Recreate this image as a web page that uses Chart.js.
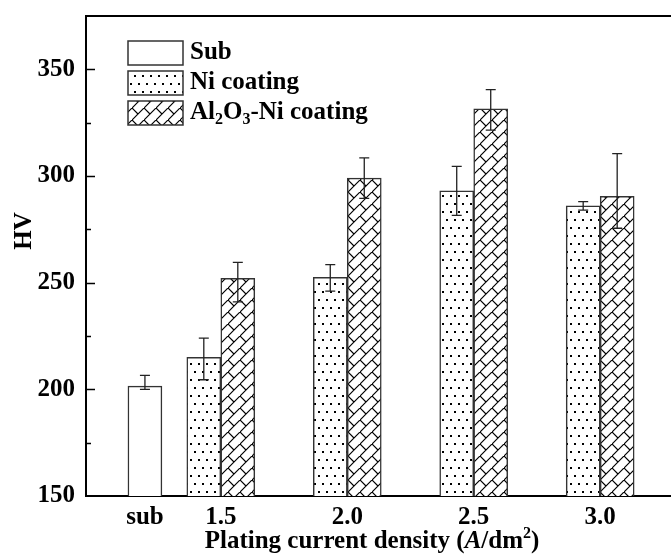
<!DOCTYPE html>
<html>
<head>
<meta charset="utf-8">
<script src="https://cdn.jsdelivr.net/npm/chart.js@4"></script>
<style>
  html, body { margin: 0; padding: 0; background: #fff; overflow: hidden; }
  #wrap { width: 671px; height: 557px; }
</style>
</head>
<body>
<div id="wrap"><canvas id="hvChart" width="671" height="557"></canvas></div>
<script>
// data
const categories = ['sub', '1.5', '2.0', '2.5', '3.0'];
const xPositions = [1.2, 1.5, 2.0, 2.5, 3.0];

const subValues = [201.5, null, null, null, null];
const subErrUp = [5, null, null, null, null];
const subErrDown = [1.5, null, null, null, null];

const niValues = [null, 215, 252.5, 293, 286];
const niErrUp = [null, 9, 6, 11.5, 2];
const niErrDown = [null, 10.5, 6.5, 11.5, 2];

const alValues = [null, 252, 299, 331.5, 290.5];
const alErrUp = [null, 7.5, 9.5, 9, 20];
const alErrDown = [null, 11, 9.5, 10, 15];

const yTicks = [150, 200, 250, 300, 350];
const yMinorTicks = [175, 225, 275, 325];

const FONT = '"Liberation Serif", "Times New Roman", serif';

function dotPattern() {
  const c = document.createElement('canvas');
  c.width = 8; c.height = 16;
  const g = c.getContext('2d');
  g.fillStyle = '#fff';
  g.fillRect(0, 0, 8, 16);
  g.fillStyle = '#000';
  g.fillRect(2, 3, 2, 2);
  g.fillRect(6, 11, 2, 2);
  return g.createPattern(c, 'repeat');
}

function hatchPattern() {
  const c = document.createElement('canvas');
  c.width = 12; c.height = 12;
  const g = c.getContext('2d');
  g.fillStyle = '#fff';
  g.fillRect(0, 0, 12, 12);
  g.strokeStyle = '#000';
  g.lineWidth = 1.2;
  g.beginPath();
  g.moveTo(-1, 13); g.lineTo(13, -1);
  g.moveTo(0, 0); g.lineTo(6, 6);
  g.stroke();
  return g.createPattern(c, 'repeat');
}

const subFill = '#fff';
const niFill = dotPattern();
const alFill = hatchPattern();

const toPoints = vals => xPositions.map((x, i) => ({ x: x, y: vals[i] }));

const errorBars = {
  id: 'errorBars',
  afterDatasetsDraw(chart) {
    const ctx = chart.ctx;
    const yScale = chart.scales.y;
    ctx.save();
    ctx.strokeStyle = '#222';
    ctx.lineWidth = 1.3;
    chart.data.datasets.forEach((ds, di) => {
      const meta = chart.getDatasetMeta(di);
      meta.data.forEach((bar, i) => {
        const v = ds.data[i].y;
        if (v == null) return;
        const top = yScale.getPixelForValue(v + ds.errUp[i]);
        const bot = yScale.getPixelForValue(v - ds.errDown[i]);
        ctx.beginPath();
        ctx.moveTo(bar.x, top); ctx.lineTo(bar.x, bot);
        ctx.moveTo(bar.x - 5, top); ctx.lineTo(bar.x + 5, top);
        ctx.moveTo(bar.x - 5, bot); ctx.lineTo(bar.x + 5, bot);
        ctx.stroke();
      });
    });
    ctx.restore();
  }
};

const frame = {
  id: 'frame',
  afterDraw(chart) {
    const ctx = chart.ctx;
    const a = chart.chartArea;
    const y = chart.scales.y;
    ctx.save();
    ctx.strokeStyle = '#000';
    ctx.lineWidth = 2;
    ctx.beginPath();
    ctx.moveTo(a.left - 1, a.top); ctx.lineTo(chart.width, a.top);
    ctx.stroke();
    ctx.lineWidth = 1.5;
    ctx.beginPath();
    yTicks.slice(1).forEach(v => {
      const p = Math.round(y.getPixelForValue(v)) + 0.5;
      ctx.moveTo(a.left, p); ctx.lineTo(a.left + 9, p);
    });
    yMinorTicks.forEach(v => {
      const p = Math.round(y.getPixelForValue(v)) + 0.5;
      ctx.moveTo(a.left, p); ctx.lineTo(a.left + 5, p);
    });
    ctx.stroke();

    // axis titles
    ctx.fillStyle = '#000';
    ctx.textBaseline = 'middle';
    ctx.font = 'bold 25px ' + FONT;
    ctx.save();
    ctx.translate(25, 231);
    ctx.rotate(-Math.PI / 2);
    ctx.textAlign = 'center';
    ctx.fillText('HV', 0, 0);
    ctx.restore();

    const parts = [
      { t: 'Plating current density (', f: 'bold 25px ' + FONT, dy: 0 },
      { t: 'A', f: 'italic bold 25px ' + FONT, dy: 0 },
      { t: '/dm', f: 'bold 25px ' + FONT, dy: 0 },
      { t: '2', f: 'bold 16px ' + FONT, dy: -8 },
      { t: ')', f: 'bold 25px ' + FONT, dy: 0 }
    ];
    drawRich(ctx, parts, 372, 542, 'center');

    // legend
    const rows = [
      { fill: subFill, parts: [{ t: 'Sub', f: 'bold 25px ' + FONT, dy: 0 }] },
      { fill: niFill, parts: [{ t: 'Ni coating', f: 'bold 25px ' + FONT, dy: 0 }] },
      { fill: alFill, parts: [
        { t: 'Al', f: 'bold 25px ' + FONT, dy: 0 },
        { t: '2', f: 'bold 16px ' + FONT, dy: 7 },
        { t: 'O', f: 'bold 25px ' + FONT, dy: 0 },
        { t: '3', f: 'bold 16px ' + FONT, dy: 7 },
        { t: '-Ni coating', f: 'bold 25px ' + FONT, dy: 0 }
      ] }
    ];
    rows.forEach((r, i) => {
      const top = 41 + i * 30;
      ctx.fillStyle = r.fill;
      ctx.fillRect(128, top, 55, 24);
      ctx.strokeStyle = '#333';
      ctx.lineWidth = 1.5;
      ctx.strokeRect(128, top, 55, 24);
      ctx.fillStyle = '#000';
      drawRich(ctx, r.parts, 190, top + 12, 'left');
    });
    ctx.restore();
  }
};

function drawRich(ctx, parts, x, y, align) {
  let total = 0;
  parts.forEach(p => { ctx.font = p.f; total += ctx.measureText(p.t).width; });
  let cx = align === 'center' ? x - total / 2 : x;
  ctx.textAlign = 'left';
  ctx.textBaseline = 'middle';
  parts.forEach(p => {
    ctx.font = p.f;
    ctx.fillText(p.t, cx, y + p.dy);
    cx += ctx.measureText(p.t).width;
  });
}

const tickFont = { family: FONT, size: 25, weight: 'bold' };

new Chart(document.getElementById('hvChart'), {
  type: 'bar',
  data: {
    datasets: [
      { label: 'Sub', data: toPoints(subValues), errUp: subErrUp, errDown: subErrDown,
        backgroundColor: subFill, borderColor: '#333', borderWidth: 1.5 },
      { label: 'Ni coating', data: toPoints(niValues), errUp: niErrUp, errDown: niErrDown,
        backgroundColor: niFill, borderColor: '#333', borderWidth: 1.5 },
      { label: 'Al2O3-Ni coating', data: toPoints(alValues), errUp: alErrUp, errDown: alErrDown,
        backgroundColor: alFill, borderColor: '#333', borderWidth: 1.5 }
    ]
  },
  options: {
    responsive: false,
    animation: false,
    layout: { padding: { top: 16, left: 0, right: 0, bottom: 0 } },
    datasets: { bar: { barThickness: 34, skipNull: true } },
    plugins: { legend: { display: false }, tooltip: { enabled: false } },
    scales: {
      x: {
        type: 'linear',
        offset: false,
        min: 0.967,
        max: 3.28,
        grid: { display: false, drawTicks: false, offset: false },
        border: { color: '#000', width: 2 },
        ticks: {
          color: '#000', font: tickFont, padding: 7, autoSkip: false, maxRotation: 0,
          callback: (v, i) => categories[i]
        },
        afterBuildTicks: s => { s.ticks = xPositions.map(v => ({ value: v })); },
        afterFit: s => { s.height = 61; s.paddingLeft = 0; s.paddingRight = 0; }
      },
      y: {
        min: 150,
        max: 375,
        grid: { display: false, drawTicks: false },
        border: { color: '#000', width: 2 },
        ticks: { color: '#000', font: tickFont, padding: 11 },
        afterBuildTicks: s => { s.ticks = yTicks.map(v => ({ value: v })); },
        afterFit: s => { s.width = 86; s.paddingTop = 0; s.paddingBottom = 0; }
      }
    }
  },
  plugins: [errorBars, frame]
});
</script>
</body>
</html>
